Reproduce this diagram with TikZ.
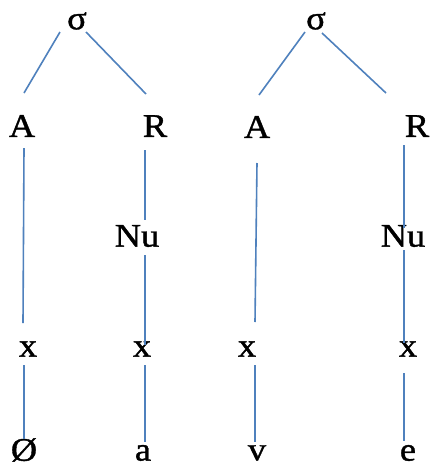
\documentclass[tikz,border=0pt]{standalone}
\usepackage{fontspec}
\setmainfont[FakeStretch=1.1,FakeBold=1.2]{Liberation Serif}
\usetikzlibrary{calc}
\definecolor{linkblue}{RGB}{79,129,189}
\begin{document}
\begin{tikzpicture}[x=1pt,y=-1pt,
  lbl/.style={inner sep=0pt,outer sep=0pt,anchor=center,font=\fontsize{33}{33}\selectfont},
  link/.style={draw=linkblue,line width=1.6pt}]
\useasboundingbox[fill=white] (0,0) rectangle (431,467);
% labels
\node[lbl] (s1) at (77,21) {σ};
\node[lbl] (s2) at (316,21) {σ};
\node[lbl] (A1) at (22,126) {A};
\node[lbl] (R1) at (155,126) {R};
\node[lbl] (A2) at (257,127) {A};
\node[lbl] (R2) at (417,126) {R};
\node[lbl] (N1) at (137,236) {Nu};
\node[lbl] (N2) at (403,236) {Nu};
\node[lbl] (X1) at (28,349) {x};
\node[lbl] (X2) at (142,349) {x};
\node[lbl] (X3) at (247,349) {x};
\node[lbl] (X4) at (408,349) {x};
\node[lbl] (B1) at (24,450) {Ø};
\node[lbl] (B2) at (143,453) {a};
\node[lbl] (B3) at (257,453) {v};
\node[lbl] (B4) at (408,453) {e};
% connectors
\draw[link] ($(s1)+(-17,11)$) -- ($(A1)+(2,-33)$);
\draw[link] ($(s1)+(9,11)$) -- ($(R1)+(-9,-32)$);
\draw[link] ($(s2)+(-11,11)$) -- ($(A2)+(2,-32)$);
\draw[link] ($(s2)+(6,12)$) -- ($(R2)+(-31,-33)$);
\draw[link] ($(A1)+(2,22)$) -- ($(X1)+(-5,-26)$);
\draw[link] ($(X1)+(-4,16)$) -- ($(B1)+(0,-11)$);
\draw[link] ($(R1)+(-10,24)$) -- ($(N1)+(8,-16)$);
\draw[link] ($(N1)+(8,19)$) -- ($(X2)+(3,-4)$);
\draw[link] ($(X2)+(3,16)$) -- ($(B2)+(2,-11)$);
\draw[link] ($(A2)+(0,36)$) -- ($(X3)+(8,-27)$);
\draw[link] ($(X3)+(8,16)$) -- ($(B3)+(-2,-11)$);
\draw[link] ($(R2)+(-13,19)$) -- ($(N2)+(1,-8)$);
\draw[link] ($(N2)+(1,14)$) -- ($(X4)+(-4,-6)$);
\draw[link] ($(X4)+(-4,24)$) -- ($(B4)+(-4,-12)$);
\end{tikzpicture}
\end{document}
